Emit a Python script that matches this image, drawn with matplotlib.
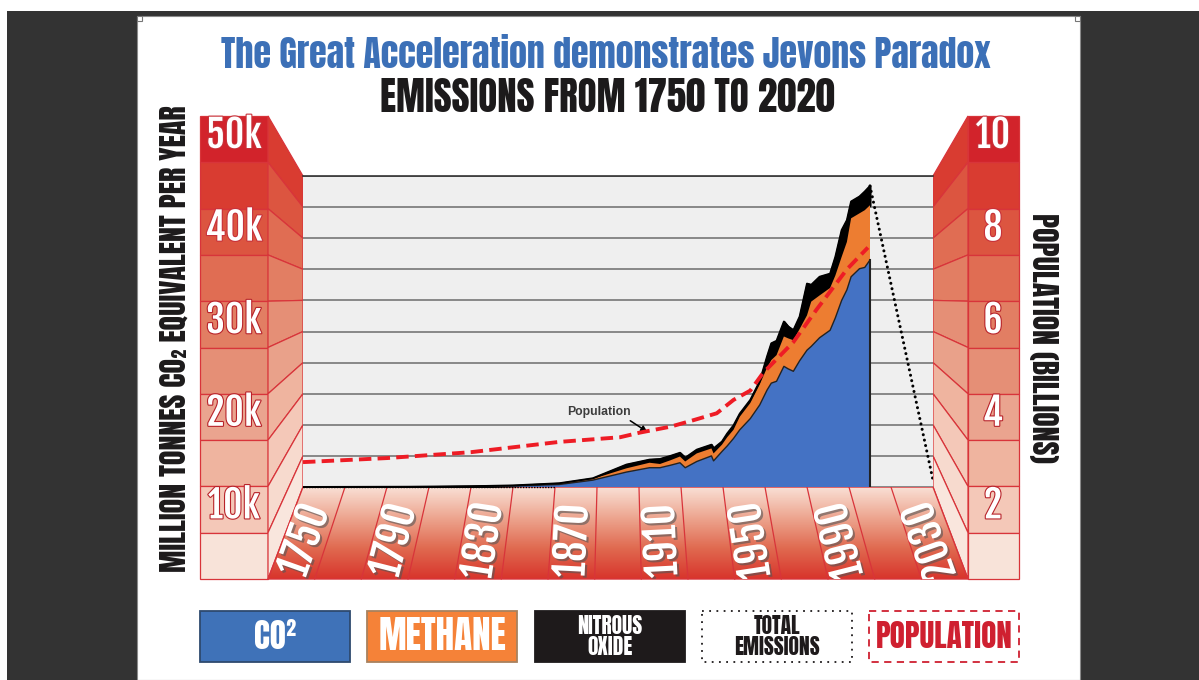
import numpy as np
import matplotlib
matplotlib.use('Agg')
import matplotlib.pyplot as plt
import matplotlib.patheffects as pe
from matplotlib.colors import LinearSegmentedColormap
from matplotlib.patches import Polygon, Rectangle

HEAVY = ['Anton', 'Oswald', 'Liberation Sans', 'DejaVu Sans']
NARROW = ['Fjalla One', 'Roboto Condensed', 'Liberation Sans', 'DejaVu Sans']
plt.rcParams['font.family'] = HEAVY

# values in thousand million tonnes, tops of the stacked bands
years = [1750, 1800, 1830, 1850, 1872, 1888, 1904, 1915, 1920, 1925, 1929.5, 1932, 1937.5, 1944.5, 1945.5, 1949.5,
         1952, 1955, 1958, 1963, 1967.5, 1971, 1973, 1975.5, 1979, 1981, 1983.5, 1986.5, 1990, 1992, 1996, 2001,
         2003.5, 2006.5, 2009, 2011, 2015, 2017.5, 2020]
co2_top = [0, 0.02, 0.08, 0.15, 0.4, 1.1, 2.4, 3.1, 3.1, 3.5, 3.9, 3.1, 4.1, 5.0, 4.2, 5.7,
           6.6, 7.8, 9.2, 11, 13.2, 15.6, 16.7, 17, 19.4, 19, 18.6, 20.3, 22, 22.6, 24, 25.2,
           27.2, 30, 31.7, 33.8, 35.1, 35.3, 36.5]
methane_top = [0, 0.03, 0.1, 0.2, 0.5, 1.3, 3, 3.9, 3.7, 4.3, 4.9, 4.1, 5.4, 6.2, 5.4, 6.8,
               8, 9.2, 11.3, 13.5, 16.5, 19.2, 20.4, 21.2, 24.2, 23.9, 23.6, 25.4, 27.6, 29.8, 30.8, 32,
               34, 37, 39.4, 43.2, 44, 44.5, 45.3]
total_top = [0, 0.04, 0.12, 0.25, 0.6, 1.4, 3.6, 4.4, 4.5, 5, 5.5, 4.7, 6, 6.8, 6.2, 7.3,
             8.6, 9.9, 11.8, 14, 17, 21, 23.1, 23.5, 26.6, 25.8, 25.2, 27.4, 32.7, 32.5, 33.8, 34.3,
             37, 41.3, 42.9, 45.9, 46.7, 47.5, 48.4]
drop_years = [2020, 2050]
drop_total = [48.4, 1.1]

pop_years = [1750, 1790, 1830, 1872, 1901, 1910.5, 1925, 1936, 1947, 1955, 1963, 1969, 1983.5, 1994.5, 2009, 2019]
population = [0.8, 0.93, 1.12, 1.45, 1.6, 1.75, 1.94, 2.15, 2.37, 2.8, 3.1, 3.66, 4.66, 5.7, 7.0, 7.7]

emission_labels = ['50k', '40k', '30k', '20k', '10k']
population_labels = ['10', '8', '6', '4', '2']
year_labels = ['1750', '1790', '1830', '1870', '1910', '1950', '1990', '2030']
legend_labels = ['CO²', 'METHANE', 'NITROUS\nOXIDE', 'TOTAL\nEMISSIONS', 'POPULATION']

BACK_L, BACK_R, BACK_T, BACK_B = 303, 933, 176, 487
FRONT_L, FRONT_R, FRONT_T, FRONT_B = 268, 968, 116, 579
LINE_RED = '#d8343a'
front_colors = ['#d2232b', '#d93c31', '#dc5540', '#e06d53', '#e27e63',
                '#e58f76', '#eaa48f', '#efb49f', '#f4c8b8', '#f8e3d9']
side_colors = ['#d93c31', '#dc5540', '#e06d53', '#e27e63', '#e58f76',
               '#e9a18a', '#efb49f', '#f4c8b8', '#f7dace', '#f9e6dd']

fig = plt.figure(figsize=(11.99, 6.8), dpi=100, facecolor='white')

# page and 3d frame are drawn in pixel coordinates
bg = fig.add_axes([0, 0, 1, 1], zorder=0)
bg.set_axis_off()
bg.add_patch(Rectangle((7, 11), 1192, 669, fc='#333333', ec='none'))
bg.add_patch(Rectangle((137, 16), 943, 664, fc='white', ec='#8a8a8a', lw=0.8))
bg.add_patch(Rectangle((137, 16), 5, 5, fc='white', ec='#777777', lw=0.8))
bg.add_patch(Rectangle((1075, 16), 5, 5, fc='white', ec='#777777', lw=0.8))

front_y = np.linspace(FRONT_T, FRONT_B, 11)
back_y = np.linspace(BACK_T, BACK_B, 11)
for i in range(10):
    for x0, x1 in [(200, FRONT_L), (FRONT_R, 1019)]:
        bg.add_patch(Rectangle((x0, front_y[i]), x1 - x0, front_y[i + 1] - front_y[i],
                               fc=front_colors[i], ec=LINE_RED, lw=0.9))
    for xf, xb in [(FRONT_L, BACK_L), (FRONT_R, BACK_R)]:
        bg.add_patch(Polygon([(xf, front_y[i]), (xb, back_y[i]), (xb, back_y[i + 1]), (xf, front_y[i + 1])],
                             fc=side_colors[i], ec=LINE_RED, lw=0.9))

# floor
floor_pts = [(BACK_L, BACK_B), (BACK_R, BACK_B), (FRONT_R, FRONT_B), (FRONT_L, FRONT_B)]
floor_cmap = LinearSegmentedColormap.from_list('floor', ['#f9dfd4', '#eda58f', '#e06a50', '#d8352c'])
floor_img = bg.imshow(np.linspace(0, 1, 100).reshape(-1, 1), cmap=floor_cmap, aspect='auto',
                      extent=(FRONT_L, FRONT_R, FRONT_B, BACK_B), zorder=1)
floor_clip = Polygon(floor_pts, transform=bg.transData)
floor_img.set_clip_path(floor_clip)
bg.add_patch(Polygon(floor_pts, fc='none', ec=LINE_RED, lw=1, zorder=2))
top_step = (BACK_R - BACK_L) / 15
bottom_step = (FRONT_R - FRONT_L) / 15
for i in range(1, 15):
    bg.plot([BACK_L + top_step * i, FRONT_L + bottom_step * i], [BACK_B, FRONT_B], color=LINE_RED, lw=0.9, zorder=2)

shadow = [pe.SimplePatchShadow(offset=(1.5, -1.5), shadow_rgbFace='#555555', alpha=0.6), pe.Normal()]
for n, label in enumerate(year_labels):
    band = n * 2
    top_c = BACK_L + top_step * (band + 0.5)
    bottom_c = FRONT_L + bottom_step * (band + 0.5)
    lean = np.degrees(np.arctan2(FRONT_B - BACK_B, top_c - bottom_c))
    xc = bottom_c + (top_c - bottom_c) * 0.42
    t = bg.text(xc, 541, label, color='white', fontsize=29, ha='center', va='center', rotation=lean,
                rotation_mode='anchor', zorder=3, clip_on=True, path_effects=shadow, family=NARROW)
    t.set_clip_path(floor_clip)

# wall labels
for i, (left, right) in enumerate(zip(emission_labels, population_labels)):
    y = front_y[i * 2] + 19
    edge = '#b8232a' if i > 1 else '#c8323a'
    outline = [pe.withStroke(linewidth=1.6, foreground=edge)]
    bg.text(234, y, left, color='white', fontsize=27, ha='center', va='center', path_effects=outline, zorder=3,
            family=NARROW)
    bg.text(993, y, right, color='white', fontsize=27, ha='center', va='center', path_effects=outline, zorder=3,
            family=NARROW)

bg.text(606, 54, 'The Great Acceleration demonstrates Jevons Paradox', color='#3c70b7', fontsize=25.8,
        ha='center', va='center')
bg.text(607, 97, 'EMISSIONS FROM 1750 TO 2020', color='#1c1a1b', fontsize=28, ha='center', va='center')
bg.text(175, 339, 'MILLION TONNES CO₂ EQUIVALENT PER YEAR', color='#1c1a1b', fontsize=21.6, rotation=90,
        ha='center', va='center')
bg.text(1043, 338, 'POPULATION (BILLIONS)', color='#1c1a1b', fontsize=21.5, rotation=270,
        ha='center', va='center')

# legend boxes
box_x = [200, 367, 535, 702, 869]
box_face = ['#3f72b8', '#f58238', '#1e1a1b', 'white', 'white']
box_edge = ['#2e4a6e', '#a8815e', '#1e1a1b', '#1e1a1b', '#cf2030']
box_style = ['-', '-', '-', (0, (1, 3)), (0, (4, 3))]
box_text = ['white', 'white', 'white', '#1e1a1b', '#cf2030']
box_size = [24, 26.7, 15.5, 15.5, 22.4]
for x, label, fc, ec, ls, tc, fs in zip(box_x, legend_labels, box_face, box_edge, box_style, box_text, box_size):
    bg.add_patch(Rectangle((x, 611), 150, 51, fc=fc, ec=ec, ls=ls, lw=1.3))
    bg.text(x + 75, 636.5, label, color=tc, fontsize=fs, ha='center', va='center', linespacing=0.95)
bg.set_xlim(0, 1199)
bg.set_ylim(680, 0)

# actual chart
ax = fig.add_axes([BACK_L / 1199, 1 - BACK_B / 680, (BACK_R - BACK_L) / 1199, (BACK_B - BACK_T) / 680], zorder=1)
ax.set_facecolor('#efefef')
ax.set_xlim(1750, 2050)
ax.set_ylim(0, 50)
ax.set_yticks(np.arange(0, 51, 5))
ax.grid(axis='y', color='#808080', lw=1.3)
ax.set_axisbelow(True)
ax.tick_params(length=0, labelbottom=False, labelleft=False)
for name in ['left', 'right', 'bottom']:
    ax.spines[name].set_visible(False)
ax.spines['top'].set_color('#333333')
ax.spines['top'].set_linewidth(1.2)

ax.fill_between(years, methane_top, total_top, color='black', lw=1.5, zorder=3)
ax.fill_between(years, co2_top, methane_top, facecolor='#ed7d31', edgecolor='none', zorder=3)
ax.fill_between(years, 0, co2_top, facecolor='#4472c4', edgecolor='none', zorder=3)
ax.plot(years, co2_top, color='#222222', lw=1, zorder=4)
ax.plot([years[-1], years[-1]], [0, co2_top[-1]], color='#222222', lw=1.5, zorder=4)
ax.plot(years, total_top, color='black', lw=1.4, zorder=4)
ax.plot(drop_years, drop_total, color='black', lw=2.2, ls=(0, (0.01, 1.8)), dash_capstyle='round', zorder=4)
ax.plot([1750, 1870], [0, 0], color='black', lw=1, ls=(0, (1, 1)), zorder=4, clip_on=False)

ax2 = ax.twinx()
ax2.set_ylim(0, 10)
ax2.set_axis_off()
ax2.plot(pop_years, population, color='#ee1c25', lw=2.8, ls=(0, (3.2, 1.6)), zorder=5)
ax2.annotate('Population', xy=(1914, 1.77), xytext=(-58, 14.4), textcoords='offset points', color='#3d3d3d',
             fontsize=8.8, family=['Liberation Sans', 'DejaVu Sans'], weight='bold', va='center',
             arrowprops=dict(arrowstyle='-|>', color='black', lw=1.1, mutation_scale=9, shrinkA=0, shrinkB=0,
                             relpos=(0.93, 0)))

fig.savefig('out.png', dpi=100)
